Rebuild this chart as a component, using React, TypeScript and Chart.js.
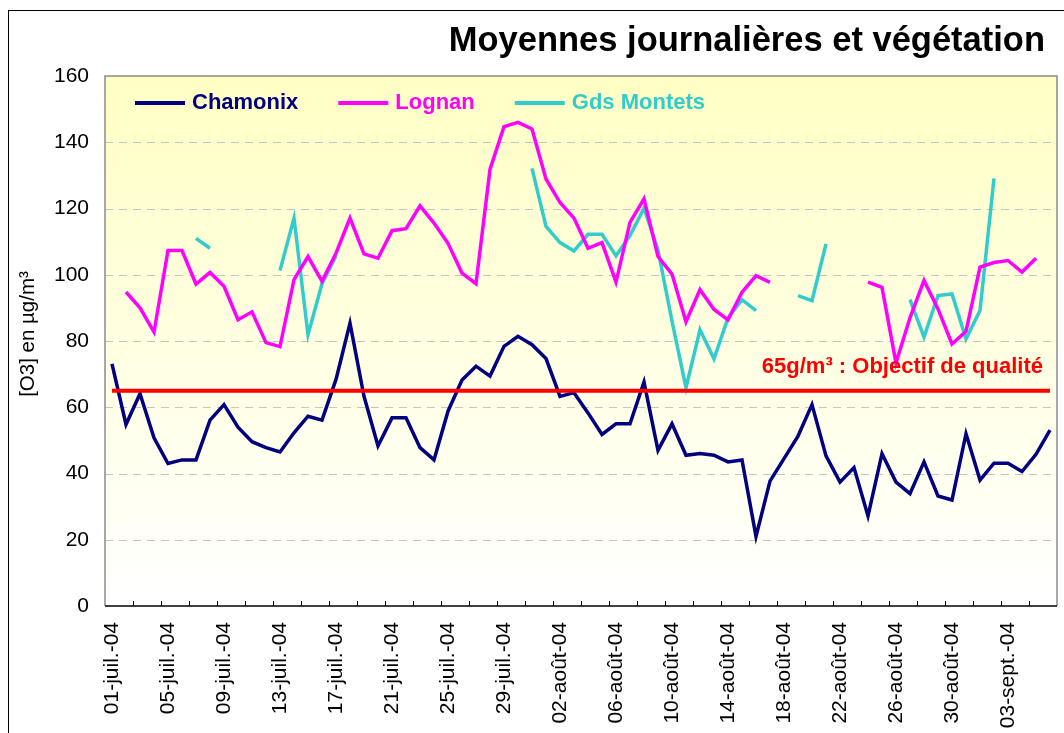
import React, { useEffect, useRef } from 'react';
import { Chart, registerables } from 'chart.js';

Chart.register(...registerables);

const FONT = '"Liberation Sans", Arial, Helvetica, sans-serif';

const TITLE = 'Moyennes journalières et végétation';
const Y_TITLE = '[O3] en µg/m³';
const OBJECTIF = 65;
const OBJECTIF_LABEL = '65g/m³ : Objectif de qualité';

const categories = [
  '01-juil.-04', '02-juil.-04', '03-juil.-04', '04-juil.-04', '05-juil.-04', '06-juil.-04', '07-juil.-04',
  '08-juil.-04', '09-juil.-04', '10-juil.-04', '11-juil.-04', '12-juil.-04', '13-juil.-04', '14-juil.-04',
  '15-juil.-04', '16-juil.-04', '17-juil.-04', '18-juil.-04', '19-juil.-04', '20-juil.-04', '21-juil.-04',
  '22-juil.-04', '23-juil.-04', '24-juil.-04', '25-juil.-04', '26-juil.-04', '27-juil.-04', '28-juil.-04',
  '29-juil.-04', '30-juil.-04', '31-juil.-04',
  '01-août-04', '02-août-04', '03-août-04', '04-août-04', '05-août-04', '06-août-04', '07-août-04',
  '08-août-04', '09-août-04', '10-août-04', '11-août-04', '12-août-04', '13-août-04', '14-août-04',
  '15-août-04', '16-août-04', '17-août-04', '18-août-04', '19-août-04', '20-août-04', '21-août-04',
  '22-août-04', '23-août-04', '24-août-04', '25-août-04', '26-août-04', '27-août-04', '28-août-04',
  '29-août-04', '30-août-04', '31-août-04',
  '01-sept.-04', '02-sept.-04', '03-sept.-04', '04-sept.-04', '05-sept.-04', '06-sept.-04',
];

const chamonix = [
  73.1, 54.8, 64.1, 50.8, 43.0, 44.1, 44.1, 56.1, 60.8, 54.0, 49.6, 47.8, 46.5, 52.3, 57.3, 56.1, 68.4,
  85.4, 63.3, 48.3, 56.8, 56.8, 47.8, 44.1, 58.8, 68.2, 72.4, 69.4, 78.4, 81.4, 78.9, 74.7, 63.3, 64.4,
  58.3, 51.8, 55.0, 55.0, 67.6, 47.0, 55.0, 45.5, 46.0, 45.5, 43.5, 44.1, 21.0, 37.7, 44.5, 51.3, 60.8,
  45.3, 37.4, 41.8, 27.2, 46.0, 37.4, 33.9, 43.5, 33.2, 32.0, 52.0, 38.0, 43.1, 43.1, 40.6, 45.8, 53.1,
];

const lognan = [
  null, 94.8, 90.0, 82.7, 107.3, 107.3, 97.2, 100.7, 96.5, 86.4, 88.8, 79.5, 78.3, 98.5, 105.5, 98.0, 106.5,
  117.1, 106.3, 105.0, 113.3, 113.9, 120.8, 115.6, 109.5, 100.5, 97.3, 131.8, 144.7, 146.0, 144.0, 128.9,
  121.8, 117.1, 108.0, 109.7, 97.8, 115.8, 122.9, 105.5, 100.2, 85.8, 95.5, 89.5, 86.4, 94.7, 99.7, 97.7,
  null, null, null, null, null, null, 97.8, 96.2, 73.4, 87.0, 98.3, 89.7, 79.1, 82.9, 102.3, 103.7, 104.3,
  100.8, 105.0, null,
];

const gdsMontets = [
  null, null, null, null, null, null, 111.0, 108.0, null, null, null, null, 101.3, 117.1, 81.9, 97.3, 105.7,
  null, null, null, null, null, null, null, null, null, null, null, null, null, 132.1, 114.6, 109.7, 107.2,
  112.2, 112.2, 105.7, 111.8, 120.1, 107.5, 86.0, 65.9, 83.4, 74.6, 87.0, 92.5, 89.2, null, null, 93.7, 92.2,
  109.3, null, null, null, null, null, 92.5, 81.2, 93.7, 94.2, 80.6, 89.2, 129.1, null, null, null, null,
];

const seriesNames = ['Chamonix', 'Lognan', 'Gds Montets'];
const seriesColors = ['#000080', '#FF00FF', '#33CCCC'];
const Y_MIN = 0;
const Y_MAX = 160;
const Y_STEP = 20;
const LABEL_EVERY = 4;
const TICK_EVERY = 2;

const decor = {
  id: 'decor',
  beforeDraw(chart: any) {
    const { ctx, chartArea: a, width, height } = chart;
    ctx.save();
    ctx.fillStyle = '#FFFFFF';
    ctx.fillRect(0, 0, width, height);
    ctx.strokeStyle = '#000000';
    ctx.lineWidth = 1;
    ctx.strokeRect(8.5, 10.5, width + 40, height + 40);
    const g = ctx.createLinearGradient(0, a.top, 0, a.bottom);
    g.addColorStop(0, '#FFFFC4');
    g.addColorStop(1, '#FFFFFF');
    ctx.fillStyle = g;
    ctx.fillRect(a.left, a.top, a.right - a.left, a.bottom - a.top);
    const y = chart.scales.y;
    ctx.setLineDash([8, 6]);
    ctx.strokeStyle = '#C4C4C4';
    ctx.lineWidth = 1.2;
    y.ticks.forEach((t: any) => {
      if (t.value <= Y_MIN || t.value >= Y_MAX) return;
      const py = Math.round(y.getPixelForValue(t.value)) + 0.5;
      ctx.beginPath();
      ctx.moveTo(a.left, py);
      ctx.lineTo(a.right, py);
      ctx.stroke();
    });
    ctx.setLineDash([]);
    ctx.strokeStyle = '#8C8C8C';
    ctx.lineWidth = 1.5;
    ctx.beginPath();
    ctx.moveTo(a.left, a.bottom);
    ctx.lineTo(a.left, a.top);
    ctx.lineTo(a.right, a.top);
    ctx.lineTo(a.right, a.bottom);
    ctx.stroke();
    ctx.restore();
  },
  afterDatasetsDraw(chart: any) {
    const { ctx, chartArea: a } = chart;
    const x = chart.scales.x;
    const y = chart.scales.y;
    ctx.save();
    const py = y.getPixelForValue(OBJECTIF);
    ctx.strokeStyle = '#FF0000';
    ctx.lineWidth = 4;
    ctx.beginPath();
    ctx.moveTo(x.getPixelForValue(0), py);
    ctx.lineTo(x.getPixelForValue(categories.length - 1), py);
    ctx.stroke();
    ctx.strokeStyle = '#000000';
    ctx.lineWidth = 1.5;
    ctx.beginPath();
    ctx.moveTo(a.left, a.bottom);
    ctx.lineTo(a.right, a.bottom);
    ctx.stroke();
    const step = (a.right - a.left) / categories.length;
    ctx.lineWidth = 1;
    for (let k = TICK_EVERY; k < categories.length; k += TICK_EVERY) {
      const px = Math.round(a.left + k * step) + 0.5;
      ctx.beginPath();
      ctx.moveTo(px, a.bottom);
      ctx.lineTo(px, a.bottom - 5);
      ctx.stroke();
    }
    ctx.restore();
  },
  afterDraw(chart: any) {
    const { ctx, chartArea: a } = chart;
    const y = chart.scales.y;
    ctx.save();
    ctx.fillStyle = '#000000';
    ctx.font = `bold 34.5px ${FONT}`;
    ctx.textAlign = 'right';
    ctx.textBaseline = 'alphabetic';
    ctx.fillText(TITLE, a.right - 12, 51);
    ctx.save();
    ctx.translate(28, (a.top + a.bottom) / 2 - 7);
    ctx.rotate(-Math.PI / 2);
    ctx.font = `20.5px ${FONT}`;
    ctx.textAlign = 'center';
    ctx.textBaseline = 'middle';
    ctx.fillText(Y_TITLE, 0, 0);
    ctx.restore();
    ctx.fillStyle = '#FF0000';
    ctx.font = `bold 22px ${FONT}`;
    ctx.textAlign = 'right';
    ctx.textBaseline = 'alphabetic';
    ctx.fillText(OBJECTIF_LABEL, a.right - 14, y.getPixelForValue(OBJECTIF) - 18);
    let lx = a.left + 30;
    const ly = a.top + 27;
    ctx.font = `bold 22px ${FONT}`;
    ctx.textAlign = 'left';
    ctx.textBaseline = 'middle';
    seriesNames.forEach((name, i) => {
      ctx.strokeStyle = seriesColors[i];
      ctx.lineWidth = 4;
      ctx.beginPath();
      ctx.moveTo(lx, ly);
      ctx.lineTo(lx + 50, ly);
      ctx.stroke();
      ctx.fillStyle = seriesColors[i];
      ctx.fillText(name, lx + 57, ly);
      lx += 57 + ctx.measureText(name).width + 40;
    });
    ctx.restore();
  },
};

export default function App() {
  const ref = useRef<HTMLCanvasElement>(null);
  useEffect(() => {
    if (!ref.current) return;
    const values = [chamonix, lognan, gdsMontets];
    const chart = new Chart(ref.current, {
      type: 'line',
      data: {
        labels: categories,
        datasets: seriesNames.map((name, i) => ({
          label: name,
          data: values[i],
          borderColor: seriesColors[i],
          backgroundColor: seriesColors[i],
          borderWidth: 3.5,
          pointRadius: 0,
          tension: 0,
          spanGaps: false,
          borderJoinStyle: 'miter' as const,
        })),
      },
      options: {
        responsive: false,
        animation: false,
        events: [],
        layout: { padding: { top: 76, right: 7, left: 0, bottom: 0 } },
        plugins: {
          legend: { display: false },
          title: { display: false },
          tooltip: { enabled: false },
        },
        scales: {
          x: {
            type: 'category',
            offset: true,
            grid: { display: false, drawTicks: false },
            border: { display: false },
            afterFit: (s: any) => {
              s.height = 127;
              s.paddingLeft = 0;
              s.paddingRight = 0;
            },
            ticks: {
              autoSkip: false,
              minRotation: 90,
              maxRotation: 90,
              padding: 16,
              color: '#000000',
              font: { family: FONT, size: 21 },
              callback: (_v: any, i: number) => (i % LABEL_EVERY === 0 ? categories[i] : ''),
            },
          },
          y: {
            min: Y_MIN,
            max: Y_MAX,
            grid: { display: false, drawTicks: false },
            border: { display: false },
            afterFit: (s: any) => {
              s.width = 105;
              s.paddingTop = 0;
              s.paddingBottom = 0;
            },
            ticks: {
              stepSize: Y_STEP,
              padding: 16,
              color: '#000000',
              font: { family: FONT, size: 21 },
            },
          },
        },
      },
      plugins: [decor],
    });
    return () => chart.destroy();
  }, []);
  return (
    <div style={{ position: 'absolute', left: 0, top: 0, width: 1064, height: 733 }}>
      <canvas ref={ref} width={1064} height={733} style={{ display: 'block' }} />
    </div>
  );
}
